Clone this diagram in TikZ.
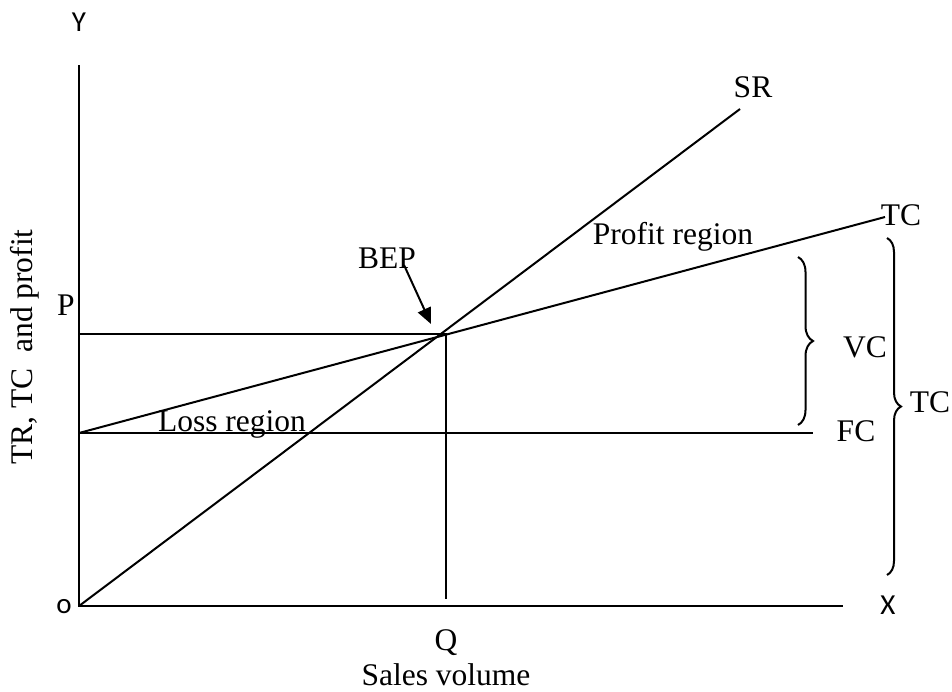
\documentclass[tikz,border=0pt]{standalone}
\usepackage{fontspec}
\setmainfont{Liberation Serif}
\newfontfamily\axisfont{Carlito}
\usetikzlibrary{arrows.meta, decorations.pathreplacing}

\begin{document}
\begin{tikzpicture}[
  x=0.5pt, y=-0.5pt,
  curve/.style={line width=1pt},
  lbl/.style={inner sep=0pt, font=\fontsize{15.75}{18}\selectfont},
  axlbl/.style={inner sep=0pt, font=\axisfont\fontsize{14.5}{16}\selectfont},
  brc/.style={line width=1pt, decorate, decoration={brace, amplitude=#1}},
  arr/.style={-{Triangle[length=8pt, width=7pt]}, line width=1pt},
]
  \useasboundingbox (0,0) rectangle (952,691);

  % Points
  \coordinate (o) at (79,606);
  \coordinate (ytop) at (79,65);
  \coordinate (xend) at (843,606);
  \coordinate (srend) at (740,109);
  \coordinate (fcstart) at (79,433);
  \coordinate (fcend) at (813,433);
  \coordinate (tcend) at (885,217);
  \coordinate (pstart) at (79,334);
  \coordinate (bep) at (446,334);
  \coordinate (qfoot) at (446,599);
  \coordinate (arrtail) at (404,265);
  \coordinate (arrtip) at (431,324);
  \coordinate (vctop) at (798,257);
  \coordinate (vcbot) at (798,425);
  \coordinate (tctop) at (887,238);
  \coordinate (tcbot) at (887,575);

  % Labels
  \node[axlbl] (ylab) at (79,22) {Y};
  \node[axlbl] (xlab) at (888,605) {X};
  \node[axlbl] (olab) at (64,607) {o};
  \node[lbl] (plab) at (66,305) {P};
  \node[lbl] (qlab) at (446,643) {Q};
  \node[lbl] (sales) at (446,675) {Sales volume};
  \node[lbl, rotate=90] (vert) at (25,347) {TR, TC\ \ and profit};
  \node[lbl] (beplab) at (387,258) {BEP};
  \node[lbl] (srlab) at (753,87) {SR};
  \node[lbl] (tclab) at (901,215) {TC};
  \node[lbl] (fclab) at (856,431) {FC};
  \node[lbl] (vclab) at (865,347) {VC};
  \node[lbl] (tcsum) at (930,402) {TC};
  \node[lbl] (profit) at (673,237) {Profit region};
  \node[lbl] (loss) at (232,424) {Loss region};

  % Axes
  \draw[curve] (ytop) -- (o) -- (xend);

  % Revenue and cost lines
  \draw[curve] (o) -- (srend);
  \draw[curve] (fcstart) -- (tcend);
  \draw[curve] (fcstart) -- (fcend);
  \draw[curve] (pstart) -- (bep) -- (qfoot);

  % Break-even arrow
  \draw[arr] (arrtail) -- (arrtip);

  % Braces
  \draw[brc=7.5pt] (vctop) -- (vcbot);
  \draw[brc=7pt] (tctop) -- (tcbot);
\end{tikzpicture}
\end{document}
